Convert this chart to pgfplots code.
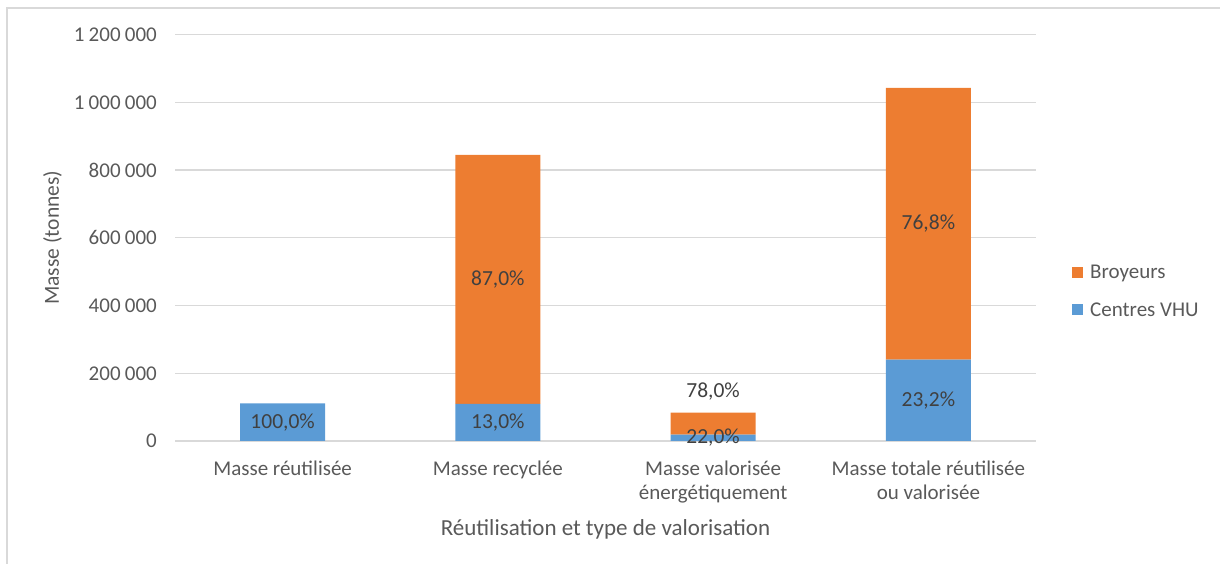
\documentclass[border=0pt]{standalone}
\usepackage{fontspec}
\setmainfont{Carlito}
\usepackage{pgfplots}
\usepackage{pgfplotstable}
\pgfplotsset{compat=1.18}

\definecolor{vhu}{HTML}{5B9BD5}
\definecolor{broy}{HTML}{ED7D31}
\definecolor{gridc}{HTML}{D9D9D9}
\definecolor{txt}{HTML}{595959}
\definecolor{lbl}{HTML}{404040}

% masses in tonnes
\pgfplotstableread{
x vhu broy
0 111000 0
1 110000 735000
2 18500 65500
3 240000 803000
}\masses

% percentage labels, placed at the middle of each segment
\pgfplotstableread{
x y lbl
0 55500 100,0\%
1 55000 13,0\%
1 477500 87,0\%
2 9250 22,0\%
2 144700 78,0\%
3 120000 23,2\%
3 641500 76,8\%
}\labels

\newcommand\txtfont{\fontsize{21bp}{24bp}\selectfont}
\newcommand\ts{\kern0.2em}

\begin{document}
\begin{tikzpicture}
\pgfplotsset{geom/.style={
  width=861bp, height=406.3bp, scale only axis,
  at={(175bp,123bp)}, anchor=south west,
  xmin=-0.5, xmax=3.5, ymin=0, ymax=1200000,
}}

\begin{axis}[geom,
  ybar stacked, bar width=85bp,
  axis line style={draw=none},
  major tick length=0pt,
  ymajorgrids, grid style={gridc, line width=1.3bp},
  scaled y ticks=false,
  ytick={0,200000,400000,600000,800000,1000000,1200000},
  yticklabels={0,200\ts000,400\ts000,600\ts000,800\ts000,1\ts000\ts000,1\ts200\ts000},
  yticklabel style={anchor=east, inner sep=0pt, xshift=-18bp, font=\txtfont, text=txt},
  xtick={0,1,2,3},
  xticklabels={Masse réutilisée, Masse recyclée, {Masse valorisée\\énergétiquement}, {Masse totale réutilisée\\ou valorisée}},
  xticklabel style={align=center, anchor=north, inner sep=0pt, yshift=-20bp, font=\txtfont, text=txt},
  ylabel={Masse (tonnes)},
  ylabel style={at={(axis description cs:-0.1423,0.5)}, anchor=center,
    font=\fontsize{21.5bp}{24bp}\selectfont, text=txt},
  xlabel={Réutilisation et type de valorisation},
  xlabel style={at={(axis description cs:0.5,-0.2170)}, anchor=center,
    font=\fontsize{23bp}{26bp}\selectfont, text=txt},
  reverse legend,
  legend cell align=left,
  legend style={at={(axis description cs:1.0418,0.368)}, anchor=west, draw=none, fill=none,
    font=\txtfont, text=txt, inner sep=0pt, row sep=22bp, nodes={inner sep=0pt},
    /tikz/every odd column/.append style={column sep=7bp}},
  legend image code/.code={\fill[#1] (0bp,-5.5bp) rectangle (11bp,5.5bp);},
]
\addplot[fill=vhu, draw=none] table[x=x, y=vhu] {\masses};
\addlegendentry{Centres VHU}
\addplot[fill=broy, draw=none] table[x=x, y=broy] {\masses};
\addlegendentry{Broyeurs}
\end{axis}

\begin{axis}[geom, hide axis]
\addplot[draw=none, mark=none, nodes near coords, point meta=explicit symbolic,
  every node near coord/.append style={anchor=center, inner sep=0pt,
    font=\fontsize{21.5bp}{24bp}\selectfont, text=lbl}]
  table[x=x, y=y, meta=lbl] {\labels};
\end{axis}

\draw[gridc, line width=2bp] (7bp,0) -- (7bp,556bp) -- (1220bp,556bp);
\pgfresetboundingbox
\path (0,0) rectangle (1220bp,564bp);
\end{tikzpicture}
\end{document}
